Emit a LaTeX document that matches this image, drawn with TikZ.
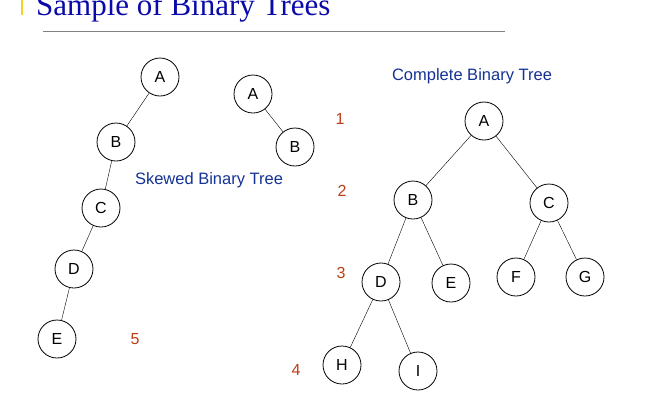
\documentclass[tikz,border=0pt]{standalone}
\usepackage{fontspec}
\setmainfont{Liberation Sans}
\newfontfamily\titlefont{Liberation Serif}
\definecolor{titleblue}{RGB}{10,10,170}
\definecolor{lblblue}{RGB}{20,50,150}
\definecolor{numred}{RGB}{190,60,20}
\begin{document}
\begin{tikzpicture}[x=1pt,y=-1pt,
  nd/.style={circle,draw,line width=0.8pt,minimum size=38pt,inner sep=0pt,font=\fontsize{16}{18}\selectfont},
  lbl/.style={font=\fontsize{16.5}{18}\selectfont,text=lblblue},
  num/.style={font=\fontsize{16}{18}\selectfont,text=numred}]
\useasboundingbox (0,0) rectangle (650,400);
\clip (0,0) rectangle (650,400);
\fill[yellow!70!brown] (21,0) rectangle (23,15);
\node[anchor=base west,inner sep=0pt,text=titleblue,font=\titlefont\fontsize{31}{34}\selectfont] (title) at (36,15) {Sample of Binary Trees};
\draw[gray,line width=1pt] (43,31) -- (505,31);
\node[nd] (a1) at (160,77) {A};
\node[nd] (b1) at (116,142) {B};
\node[nd] (c1) at (101,208) {C};
\node[nd] (d1) at (74,269) {D};
\node[nd] (e1) at (57,339) {E};
\draw (a1)--(b1) (b1)--(c1) (c1)--(d1) (d1)--(e1);
\node[nd] (a2) at (253,94) {A};
\node[nd] (b2) at (295,147) {B};
\draw (a2)--(b2);
\node[lbl] (sk) at (209,180) {Skewed Binary Tree};
\node[lbl] (cb) at (472,76) {Complete Binary Tree};
\node[num] (n1) at (340,119) {1};
\node[num] (n2) at (342,191) {2};
\node[num] (n3) at (341,273) {3};
\node[num] (n4) at (296,370) {4};
\node[num] (n5) at (135,339) {5};
\node[nd] (A) at (484,121) {A};
\node[nd] (B) at (413,200) {B};
\node[nd] (C) at (549,203) {C};
\node[nd] (D) at (381,282) {D};
\node[nd] (E) at (451,283) {E};
\node[nd] (F) at (516,277) {F};
\node[nd] (G) at (585,277) {G};
\node[nd] (H) at (342,365) {H};
\node[nd] (I) at (418,371) {I};
\draw (A)--(B) (A)--(C) (B)--(D) (B)--(E) (C)--(F) (C)--(G) (D)--(H) (D)--(I);
\end{tikzpicture}
\end{document}
